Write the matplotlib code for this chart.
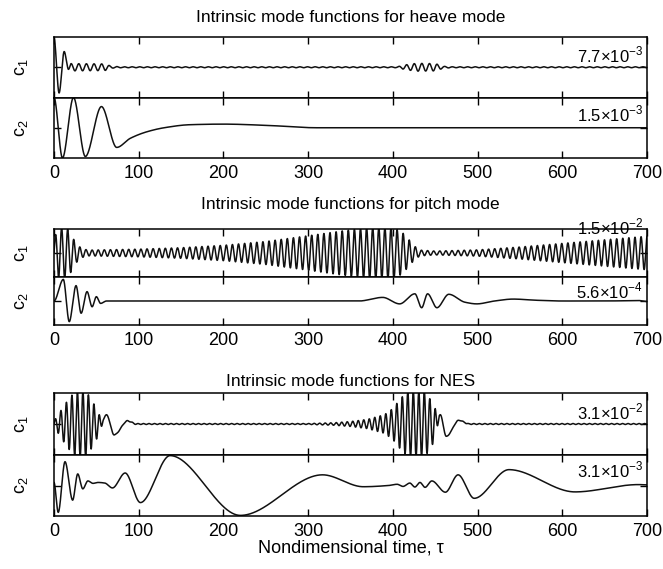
import matplotlib
matplotlib.use("Agg")
import matplotlib.pyplot as plt
import numpy as np

plt.rcParams["font.family"] = ["Liberation Sans", "DejaVu Sans"]
plt.rcParams["mathtext.fontset"] = "custom"
plt.rcParams["mathtext.rm"] = "Liberation Sans"

# panel scales (label in the upper right corner)
scales = {
    "heave": (7.7e-3, 1.5e-3),
    "pitch": (1.5e-2, 5.6e-4),
    "nes": (3.1e-2, 3.1e-3),
}
scale_labels = {
    "heave": (r"7.7$\times$10$^{-3}$", r"1.5$\times$10$^{-3}$"),
    "pitch": (r"1.5$\times$10$^{-2}$", r"5.6$\times$10$^{-4}$"),
    "nes": (r"3.1$\times$10$^{-2}$", r"3.1$\times$10$^{-3}$"),
}
titles = {
    "heave": "Intrinsic mode functions for heave mode",
    "pitch": "Intrinsic mode functions for pitch mode",
    "nes": "Intrinsic mode functions for NES",
}

# --- values, in units of the panel scale ---
# heave c1: slow start (extrema) + fast ripple (envelope, period)
heave_c1_knot_t = [0, 6, 12, 17, 20]
heave_c1_knot_v = [0.97, -0.85, 0.52, -0.05, 0.0]
heave_c1_env_t = [0, 16, 20, 60, 68, 80, 405, 415, 428, 450, 460, 470, 700]
heave_c1_env_v = [0, 0, 0.12, 0.11, 0.03, 0.015, 0.015, 0.08, 0.13, 0.12, 0.03, 0.015, 0.015]
heave_c1_period = 9.0

# heave c2: extrema / shape points
heave_c2_knot_t = [0, 10, 23, 37, 56, 74, 90, 110, 130, 160, 200, 250, 310, 700]
heave_c2_knot_v = [1.0, -1.0, 1.0, -0.95, 0.70, -0.65, -0.35, -0.13, 0.0, 0.10, 0.12, 0.08, 0.0, 0.0]

# pitch c1: envelope of the fast oscillation
pitch_c1_env_t = [0, 5, 15, 20, 25, 32, 40, 100, 150, 200, 250, 300, 340, 370, 400,
                  410, 418, 425, 432, 450, 500, 550, 600, 650, 700]
pitch_c1_env_v = [0.6, 1.05, 1.05, 0.8, 0.45, 0.2, 0.12, 0.16, 0.22, 0.32, 0.48, 0.72, 0.92,
                  1.05, 1.05, 0.9, 0.6, 0.3, 0.12, 0.08, 0.13, 0.25, 0.4, 0.55, 0.7]
pitch_c1_period = 7.2

# pitch c2: extrema
pitch_c2_knot_t = [0, 11, 18, 26, 32, 39, 45, 50, 55, 62, 360, 388, 408, 426, 434, 441,
                   452, 466, 485, 499, 520, 542, 570, 600, 650, 690, 700]
pitch_c2_knot_v = [0.0, 0.9, -0.86, 0.64, -0.51, 0.39, -0.24, 0.18, -0.1, 0.0, 0.0, 0.15,
                   -0.12, 0.3, -0.28, 0.3, -0.28, 0.28, -0.05, -0.12, 0.0, 0.08, 0.03,
                   0.0, 0.0, 0.02, -0.02]

# NES c1: two bursts (envelope, period) + slow tails after each burst
nes_c1_env_t = [0, 5, 12, 20, 26, 38, 44, 52, 58, 90, 300, 330, 350, 370, 390, 400, 410,
                418, 438, 444, 450, 455, 490, 700]
nes_c1_env_v = [0.1, 0.3, 0.6, 0.9, 1.05, 1.05, 0.8, 0.4, 0.0, 0.015, 0.015, 0.04, 0.08,
                0.15, 0.3, 0.5, 0.85, 1.05, 1.05, 0.8, 0.5, 0.0, 0.015, 0.015]
nes_c1_period = 6.5
nes_c1_tail1_t = [55, 62, 71, 87, 97]
nes_c1_tail1_v = [0.0, 0.3, -0.35, 0.1, 0.0]
nes_c1_tail2_t = [450, 456, 463, 478, 490]
nes_c1_tail2_v = [0.0, 0.3, -0.4, 0.12, 0.0]

# NES c2: extrema
nes_c2_knot_t = [0, 5, 13, 22, 28, 34, 40, 46, 52, 60, 69, 84, 102, 137, 220, 317, 365,
                 395, 405, 412, 420, 426, 432, 438, 446, 462, 477, 496, 537, 615, 690, 700]
nes_c2_knot_v = [0.1, -0.88, 0.78, -0.48, 0.38, -0.11, 0.15, 0.07, 0.1, 0.08, -0.08, 0.41,
                 -0.56, 0.98, -0.98, 0.35, -0.04, 0.0, 0.04, -0.03, 0.08, -0.05, 0.10,
                 -0.06, 0.15, -0.22, 0.35, -0.42, 0.52, -0.21, 0.03, 0.02]

t = np.linspace(0, 700, 14001)


def pchip(xk, yk, x):
    """Monotone cubic through the read points (flat at extrema), zero outside."""
    xk = np.asarray(xk, float)
    yk = np.asarray(yk, float)
    h = np.diff(xk)
    d = np.diff(yk) / h
    m = np.zeros_like(yk)
    for i in range(1, len(xk) - 1):
        if d[i - 1] * d[i] > 0:
            w1 = 2 * h[i] + h[i - 1]
            w2 = h[i] + 2 * h[i - 1]
            m[i] = (w1 + w2) / (w1 / d[i - 1] + w2 / d[i])
    idx = np.clip(np.searchsorted(xk, x) - 1, 0, len(h) - 1)
    s = (x - xk[idx]) / h[idx]
    y = ((2 * s**3 - 3 * s**2 + 1) * yk[idx] + (s**3 - 2 * s**2 + s) * h[idx] * m[idx]
         + (-2 * s**3 + 3 * s**2) * yk[idx + 1] + (s**3 - s**2) * h[idx] * m[idx + 1])
    y[(x < xk[0]) | (x > xk[-1])] = 0.0
    return y


def burst(env_t, env_v, period):
    return np.interp(t, env_t, env_v) * np.sin(2 * np.pi * t / period)


curves = {
    "heave": (
        pchip(heave_c1_knot_t, heave_c1_knot_v, t) + burst(heave_c1_env_t, heave_c1_env_v, heave_c1_period),
        pchip(heave_c2_knot_t, heave_c2_knot_v, t),
    ),
    "pitch": (
        burst(pitch_c1_env_t, pitch_c1_env_v, pitch_c1_period),
        pchip(pitch_c2_knot_t, pitch_c2_knot_v, t),
    ),
    "nes": (
        burst(nes_c1_env_t, nes_c1_env_v, nes_c1_period)
        + pchip(nes_c1_tail1_t, nes_c1_tail1_v, t) + pchip(nes_c1_tail2_t, nes_c1_tail2_v, t),
        pchip(nes_c2_knot_t, nes_c2_knot_v, t),
    ),
}

W, H = 663, 569
fig = plt.figure(figsize=(W / 100, H / 100), dpi=100)

left, right = 54, 647
# (top, middle, bottom) pixel rows of each group, title row
groups = [
    ("heave", (37, 97.5, 158), 17),
    ("pitch", (229, 277, 325), 205),
    ("nes", (393, 455, 516), 381),
]
label_y = {"heave": (0.70, 0.72), "pitch": (1.04, 0.71), "nes": (0.69, 0.75)}

for key, (top, mid, bot), title_y in groups:
    bounds = [(top, mid), (mid, bot)]
    for j, (y0, y1) in enumerate(bounds):
        ax = fig.add_axes([left / W, 1 - y1 / H, (right - left) / W, (y1 - y0) / H])
        sc = scales[key][j]
        ax.plot(t, curves[key][j] * sc, color="#111111", lw=1.1)
        ax.set_xlim(0, 700)
        ax.set_ylim(-sc, sc)
        ax.set_xticks(np.arange(0, 701, 100))
        ax.set_yticks([0])
        ax.set_yticklabels([])
        ax.tick_params(direction="in", length=5, width=1.0, top=True, right=True,
                       labelsize=13, pad=5)
        if j == 0:
            ax.set_xticklabels([])
        for sp in ax.spines.values():
            sp.set_linewidth(1.1)
        ax.set_ylabel(r"c$_%d$" % (j + 1), fontsize=13, labelpad=12)
        ax.text(0.993, label_y[key][j], scale_labels[key][j], transform=ax.transAxes,
                ha="right", va="center", fontsize=12)
    fig.text((left + right) / 2 / W, 1 - title_y / H, titles[key], ha="center",
             va="center", fontsize=12.5)

fig.text((left + right) / 2 / W, 1 - 548 / H, "Nondimensional time, τ", ha="center",
         va="center", fontsize=13)

fig.savefig("out.png", dpi=100)
